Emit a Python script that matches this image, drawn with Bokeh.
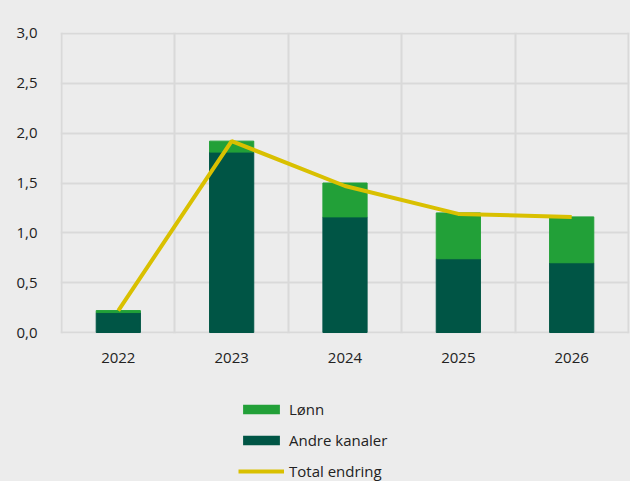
from bokeh.plotting import figure
from bokeh.layouts import column
from bokeh.models import (ColumnDataSource, FixedTicker, CustomJSTickFormatter,
                          Legend, LegendItem, Range1d)
from bokeh.embed import file_html
from bokeh.resources import INLINE

years = ["2022", "2023", "2024", "2025", "2026"]
andre_kanaler = [0.20, 1.81, 1.16, 0.74, 0.70]
lonn = [0.02, 0.11, 0.34, 0.46, 0.46]
total_endring = [0.22, 1.92, 1.47, 1.19, 1.16]
y_ticks = [0.0, 0.5, 1.0, 1.5, 2.0, 2.5, 3.0]

BG = "#ececec"
GRID = "#d9d9d9"
C_LONN = "#22a038"
C_ANDRE = "#005545"
C_TOTAL = "#d9c000"
FONT = "Open Sans"

xpos = [i + 0.5 for i in range(len(years))]
src = ColumnDataSource(dict(
    x=xpos, andre=andre_kanaler, lonn=lonn,
    top_lonn=[a + b for a, b in zip(andre_kanaler, lonn)],
    total=total_endring,
))

p = figure(width=630, height=380, output_backend="svg", toolbar_location=None,
           x_range=Range1d(-0.01, len(years) + 0.01), y_range=Range1d(-0.01, 3.01),
           min_border_left=60, min_border_right=1, min_border_top=32,
           min_border_bottom=47)
p.background_fill_color = BG
p.border_fill_color = BG
p.outline_line_color = None

bw = 0.39
p.vbar(x="x", bottom=0, top="andre", width=bw, source=src,
       fill_color=C_ANDRE, line_color=C_ANDRE)
p.vbar(x="x", bottom="andre", top="top_lonn", width=bw, source=src,
       fill_color=C_LONN, line_color=C_LONN)
p.line(x="x", y="total", source=src, line_color=C_TOTAL, line_width=4)

# axes
p.xaxis.ticker = FixedTicker(ticks=xpos)
p.xaxis.major_label_overrides = {x: y for x, y in zip(xpos, years)}
p.yaxis.ticker = FixedTicker(ticks=y_ticks)
p.yaxis.formatter = CustomJSTickFormatter(code="return tick.toFixed(1).replace('.', ',');")
for ax in (p.xaxis[0], p.yaxis[0]):
    ax.axis_line_color = None
    ax.major_tick_line_color = None
    ax.minor_tick_line_color = None
    ax.major_label_text_font = FONT
    ax.major_label_text_font_size = "15px"
    ax.major_label_text_color = "#222222"
p.yaxis.major_label_standoff = 17
p.xaxis.major_label_standoff = 13

# grids
p.xgrid.ticker = FixedTicker(ticks=list(range(len(years) + 1)))
p.ygrid.ticker = FixedTicker(ticks=y_ticks)
for g in (p.xgrid[0], p.ygrid[0]):
    g.grid_line_color = GRID
    g.grid_line_width = 2

# legend in a separate transparent strip below the chart
q = figure(width=630, height=101, output_backend="svg", toolbar_location=None,
           x_range=Range1d(0, 1), y_range=Range1d(0, 1),
           x_axis_type=None, y_axis_type=None,
           min_border_left=0, min_border_right=0, min_border_top=0,
           min_border_bottom=0)
q.background_fill_alpha = 0
q.border_fill_alpha = 0
q.outline_line_color = None
q.grid.visible = False
# zero-size proxies (draw nothing), used only for the legend swatches
l_lonn = q.vbar(x=[0.5], bottom=[0.5], top=[0.5], width=0,
                fill_color=C_LONN, line_alpha=0)
l_andre = q.vbar(x=[0.5], bottom=[0.5], top=[0.5], width=0,
                 fill_color=C_ANDRE, line_alpha=0)
l_tot = q.line(x=[0.5], y=[0.5], line_color=C_TOTAL, line_width=4)

legend = Legend(items=[
    LegendItem(label="Lønn", renderers=[l_lonn]),
    LegendItem(label="Andre kanaler", renderers=[l_andre]),
    LegendItem(label="Total endring", renderers=[l_tot]),
], location=(178, 0))
legend.background_fill_alpha = 0
legend.border_line_color = None
legend.padding = 0
legend.margin = 0
legend.spacing = 11
legend.glyph_width = 46
legend.glyph_height = 12
legend.label_height = 20
legend.label_standoff = 5
legend.label_text_font = FONT
legend.label_text_font_size = "15px"
legend.label_text_color = "#222222"
q.add_layout(legend, "center")

layout = column(p, q, spacing=0, styles={"background-color": BG})
open("out.html", "w").write(file_html(layout, INLINE))
